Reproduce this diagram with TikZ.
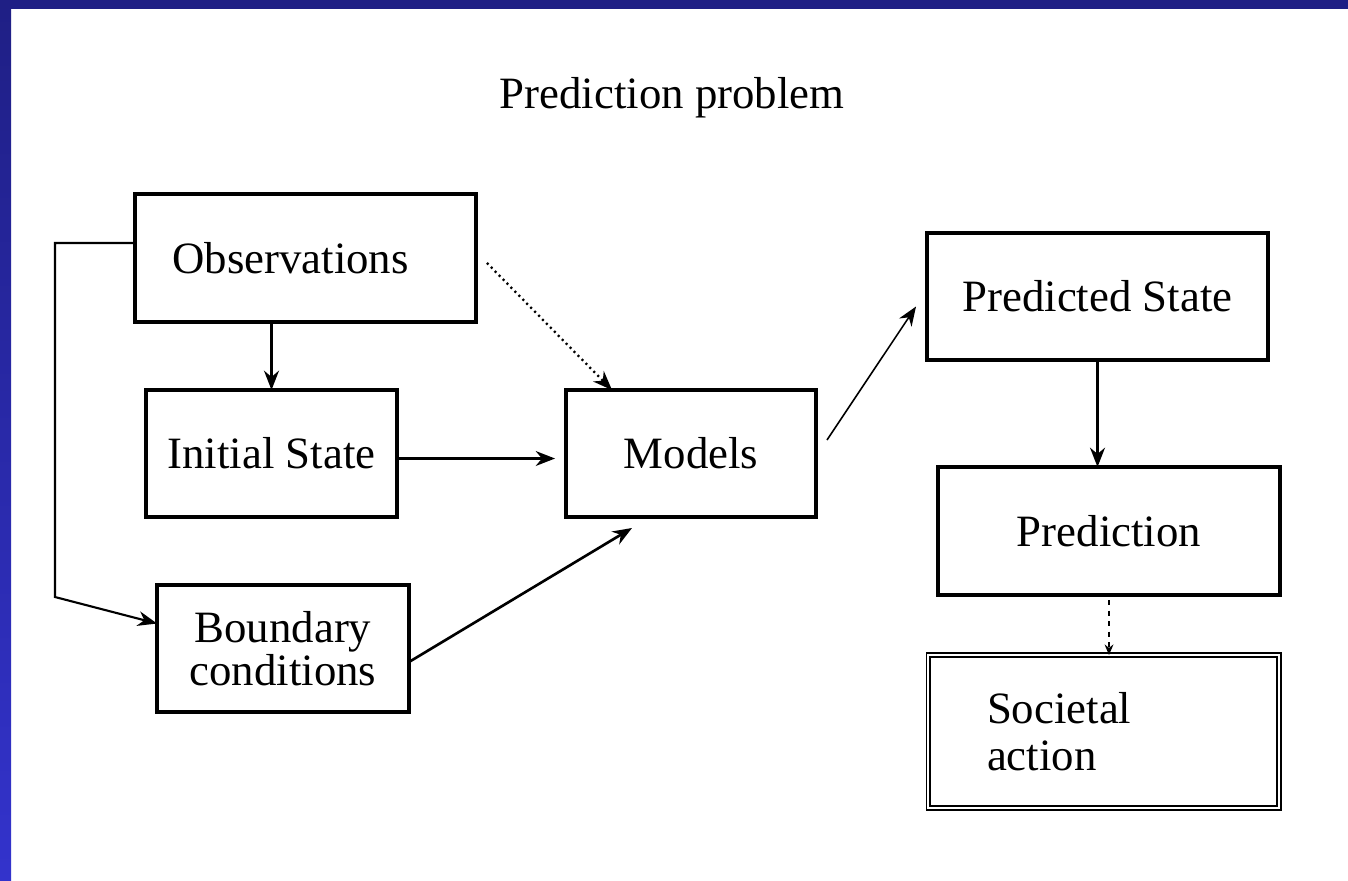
\documentclass[tikz,border=0pt]{standalone}
\usepackage{fontspec}
\setmainfont{Liberation Serif}
\usetikzlibrary{arrows.meta}
\definecolor{framedark}{HTML}{1F1F85}
\definecolor{framelight}{HTML}{3333CC}
\begin{document}
\begin{tikzpicture}[x=0.02cm, y=-0.02cm,
		every node/.style={font=\fontsize{25.5}{24.5}\selectfont, inner sep=0pt, outer sep=0pt},
		box/.style={draw, line width=2.3pt, align=center},
		societal/.style={draw, line width=0.9pt, double=white, double distance=1.1pt, align=left},
		link/.style={line width=1.2pt, -{Stealth[length=11pt, width=8.5pt]}}]
		\useasboundingbox (0,0) rectangle (1348,880);
		\fill[white] (0,0) rectangle (1348,880);
		% blue frame
		\shade[top color=framedark, bottom color=framelight] (0,0) rectangle (11,880);
		\fill[framedark] (0,0) rectangle (1348,9);
		\node (title) at (672,98) {Prediction problem};
		\node[box, minimum width=6.82cm, minimum height=2.56cm] (obs) at (305.5,258) {Observations\hspace{0.6cm}};
		\node[box, minimum width=5.02cm, minimum height=2.54cm] (init) at (271.5,453.5) {Initial State};
		\node[box, minimum width=5.04cm, minimum height=2.54cm] (bound) at (283,648.5) {Boundary\\conditions};
		\node[box, minimum width=5.0cm, minimum height=2.54cm] (models) at (691,453.5) {Models};
		\node[box, minimum width=6.82cm, minimum height=2.54cm] (pstate) at (1097.5,296.5) {Predicted State};
		\node[box, minimum width=6.84cm, minimum height=2.56cm] (pred) at (1109,531) {Prediction};
		\node[societal, minimum width=7.02cm, minimum height=3.06cm, text width=4.66cm, inner xsep=1.18cm] (soc) at (1103.5,731.5) {Societal\\[2.5pt]action};
		\coordinate (corner) at (55,597);
		\draw[link] ([yshift=0.3cm]obs.west) -| (corner) -- ([yshift=0.5cm]bound.west);
		\draw[link, line width=1.6pt] (init.north |- obs.south) -- (init.north);
		\draw[link, dotted, line width=1.3pt] ([shift={(0.22cm,-0.1cm)}]obs.east) -- ([xshift=0.92cm]models.north west);
		\draw[link] ([yshift=-0.1cm]init.east) -- ([shift={(-0.22cm,-0.1cm)}]models.west);
		\draw[link, line width=1.5pt] ([yshift=-0.27cm]bound.east) -- ([shift={(1.32cm,-0.22cm)}]models.south west);
		\draw[link, line width=0.9pt] ([shift={(0.22cm,0.27cm)}]models.east) -- ([shift={(-0.22cm,-0.2cm)}]pstate.west);
		\draw[link, line width=1.5pt] (pstate.south) -- (pstate.south |- pred.north);
		\draw[dashed, line width=0.9pt, -{Stealth[length=6pt, width=5pt]}] ([yshift=-0.1cm]pred.south) -- (pred.south |- soc.north);
	\end{tikzpicture}
\end{document}
